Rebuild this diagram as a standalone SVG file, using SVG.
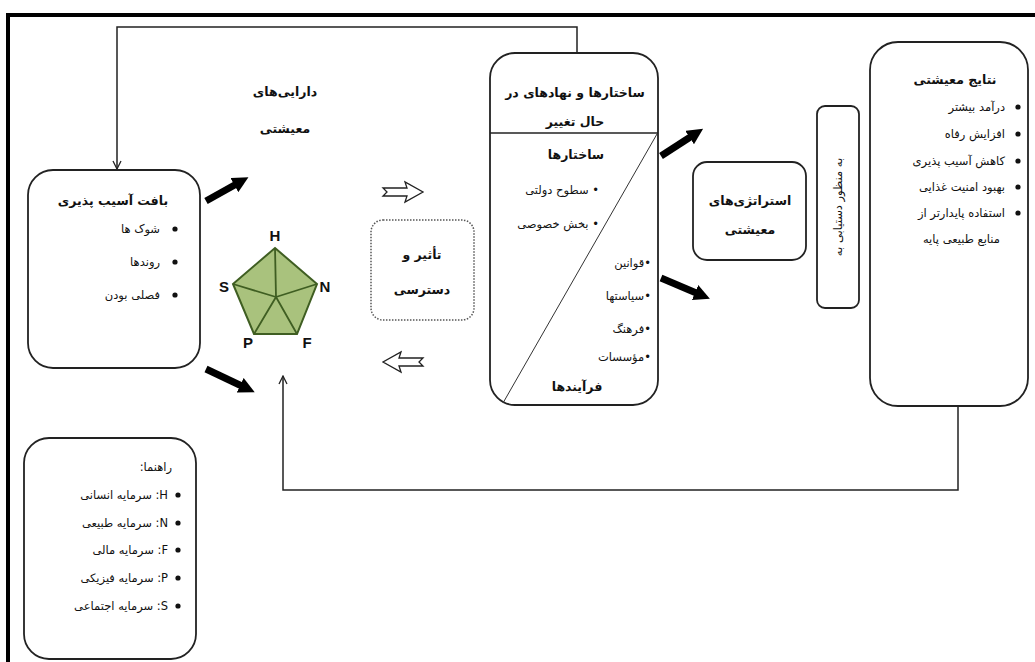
<svg xmlns="http://www.w3.org/2000/svg" width="1035" height="662" viewBox="0 0 1035 662">
<style>
text{font-family:"DejaVu Sans","Noto Sans",sans-serif;fill:#111;}
.fa{font-size:11.5px;}
.b{font-weight:bold;font-size:12.5px;}
.c{text-anchor:middle;}
.r{direction:rtl;text-anchor:start;}
.box{fill:#fff;stroke:#222;stroke-width:1.8;}
.dot{fill:#111;}
.lat{font-family:"Liberation Sans",Arial,sans-serif;font-weight:bold;font-size:15px;text-anchor:middle;}
.fb{fill:none;stroke:#222;stroke-width:1.5;}
.thick{stroke:#000;stroke-width:7;fill:none;}
.hollow{fill:#fff;stroke:#222;stroke-width:1.3;}
</style>
<defs>
<marker id="open" viewBox="0 0 10 10" refX="9" refY="5" markerWidth="10" markerHeight="10" markerUnits="userSpaceOnUse" orient="auto">
<path d="M1,1 L9,5 L1,9" fill="none" stroke="#222" stroke-width="1.3"/>
</marker>
<marker id="solid" viewBox="0 0 10 10" refX="4" refY="5" markerWidth="2.3" markerHeight="2.3" orient="auto">
<path d="M0,0 L10,5 L0,10 z" fill="#000"/>
</marker>
</defs>
<rect width="1035" height="662" fill="#fff"/>
<!-- frame -->
<path d="M1035,15 L8,15 L8,662" fill="none" stroke="#000" stroke-width="4"/>

<g id="connectors">
<polyline class="fb" points="577,53 577,27 117,27 117,169" marker-end="url(#open)"/>
<polyline class="fb" points="958,406 958,490 283,490 283,376" marker-end="url(#open)"/>
<line class="thick" x1="206" y1="201" x2="240" y2="182" marker-end="url(#solid)"/>
<line class="thick" x1="206" y1="369" x2="246" y2="388" marker-end="url(#solid)"/>
<line class="thick" x1="661" y1="156" x2="695" y2="134" marker-end="url(#solid)"/>
<line class="thick" x1="661" y1="278" x2="701" y2="295" marker-end="url(#solid)"/>
<path class="hollow" d="M383,188 L407,188 L405,182 L423,192 L405,202 L407,196 L383,196 L387,192 Z"/>
<path class="hollow" d="M423,358 L399,358 L401,352 L383,362 L401,372 L399,366 L423,366 L419,362 Z"/>
</g>

<g id="vulnerability">
<rect class="box" x="28" y="170" width="172" height="198" rx="25"/>
<text class="b c" x="113" y="205">بافت آسیب پذیری</text>
<circle class="dot" cx="175" cy="229" r="2.6"/>
<circle class="dot" cx="175" cy="262" r="2.6"/>
<circle class="dot" cx="175" cy="295" r="2.6"/>
<text class="fa r" x="160" y="233">شوک ها</text>
<text class="fa r" x="160" y="266">روندها</text>
<text class="fa r" x="160" y="299">فصلی بودن</text>
</g>

<g id="assets">
<text class="b c" x="285" y="96">دارایی‌های</text>
<text class="b c" x="285" y="133">معیشتی</text>
<polygon points="275,248 317,284 297,334 254,334 233,284" fill="#a9c27d" stroke="#3f5e22" stroke-width="2"/>
<path d="M276,297 L275,248 M276,297 L317,284 M276,297 L297,334 M276,297 L254,334 M276,297 L233,284" stroke="#3f5e22" stroke-width="1.8" fill="none"/>
<text class="lat" x="275" y="241">H</text>
<text class="lat" x="325" y="292">N</text>
<text class="lat" x="307" y="348">F</text>
<text class="lat" x="248" y="348">P</text>
<text class="lat" x="224" y="292">S</text>
</g>

<g id="access">
<rect x="371" y="220" width="103" height="100" rx="12" fill="#fff" stroke="#555" stroke-width="1.5" stroke-dasharray="1.5,1.5"/>
<text class="b c" x="422" y="259">تأثیر و</text>
<text class="b c" x="422" y="294">دسترسی</text>
</g>

<g id="structures">
<rect class="box" x="490" y="53" width="168" height="352" rx="25"/>
<line x1="490" y1="133" x2="658" y2="133" stroke="#222" stroke-width="1.5"/>
<line x1="657" y1="134" x2="503" y2="403" stroke="#333" stroke-width="1"/>
<text class="b c" x="575" y="97">ساختارها و نهادهای در</text>
<text class="b c" x="575" y="126">حال تغییر</text>
<text class="b c" x="576" y="159">ساختارها</text>
<text class="fa r" x="599" y="194">• سطوح دولتی</text>
<text class="fa r" x="599" y="228">• بخش خصوصی</text>
<text class="fa r" x="651" y="267">•قوانین</text>
<text class="fa r" x="651" y="300">•سیاستها</text>
<text class="fa r" x="651" y="333">•فرهنگ</text>
<text class="fa r" x="651" y="361">•مؤسسات</text>
<text class="b c" x="577" y="391">فرآیندها</text>
</g>

<g id="strategies">
<rect class="box" x="693" y="162" width="113" height="98" rx="14"/>
<text class="b c" x="750" y="205">استراتژی‌های</text>
<text class="b c" x="750" y="234">معیشتی</text>
</g>

<g id="toward">
<rect class="box" x="817" y="106" width="42" height="202" rx="8"/>
<text class="fa c" transform="translate(842,207) rotate(-90)">به منظور دستیابی به</text>
</g>

<g id="outcomes">
<rect class="box" x="870" y="42" width="158" height="364" rx="28"/>
<text class="b c" x="955" y="84">نتایج معیشتی</text>
<circle class="dot" cx="1018" cy="107" r="2.6"/>
<circle class="dot" cx="1018" cy="134" r="2.6"/>
<circle class="dot" cx="1018" cy="161" r="2.6"/>
<circle class="dot" cx="1018" cy="187" r="2.6"/>
<circle class="dot" cx="1018" cy="213" r="2.6"/>
<text class="fa r" x="1005" y="111">درآمد بیشتر</text>
<text class="fa r" x="1005" y="138">افزایش رفاه</text>
<text class="fa r" x="1005" y="165">کاهش آسیب پذیری</text>
<text class="fa r" x="1005" y="191">بهبود امنیت غذایی</text>
<text class="fa r" x="1005" y="217">استفاده پایدارتر از</text>
<text class="fa r" x="1000" y="243">منابع طبیعی پایه</text>
</g>

<g id="legend">
<rect class="box" x="24" y="438" width="172" height="221" rx="25"/>
<text class="fa r" x="172" y="471">راهنما:</text>
<circle class="dot" cx="178" cy="495" r="2.6"/>
<circle class="dot" cx="178" cy="523" r="2.6"/>
<circle class="dot" cx="178" cy="550" r="2.6"/>
<circle class="dot" cx="178" cy="578" r="2.6"/>
<circle class="dot" cx="178" cy="606" r="2.6"/>
<text class="fa r" x="168" y="499">H: سرمایه انسانی</text>
<text class="fa r" x="168" y="527">N: سرمایه طبیعی</text>
<text class="fa r" x="168" y="554">F: سرمایه مالی</text>
<text class="fa r" x="168" y="582">P: سرمایه فیزیکی</text>
<text class="fa r" x="168" y="610">S: سرمایه اجتماعی</text>
</g>
</svg>
